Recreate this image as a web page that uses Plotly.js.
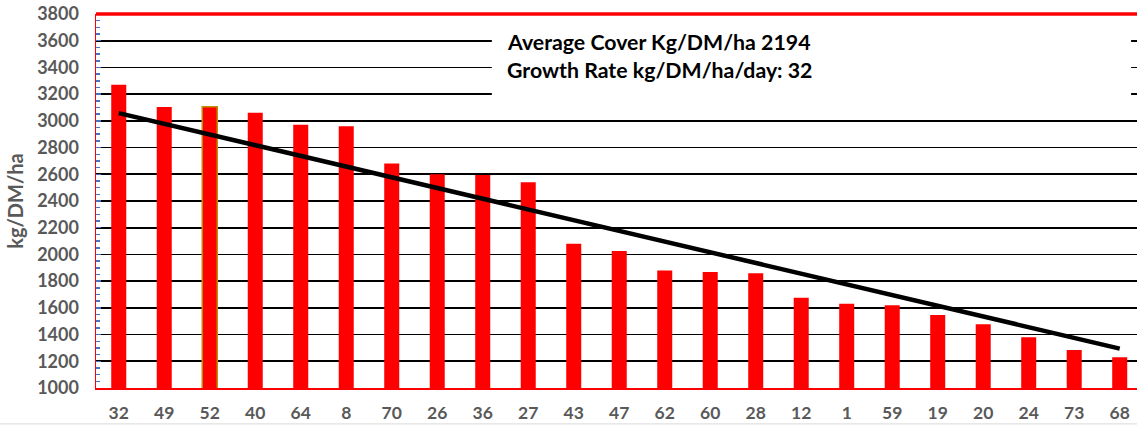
<!DOCTYPE html>
<html>
<head>
<meta charset="utf-8">
<script src="https://cdn.plot.ly/plotly-3.0.1.min.js"></script>
<style>html,body{margin:0;padding:0;background:#fff;}#chart{width:1137px;height:426px;}</style>
</head>
<body>
<div id="chart"></div>
<script>
const categories = ["32","49","52","40","64","8","70","26","36","27","43","47","62","60","28","12","1","59","19","20","24","73","68"];
const coverValues = [3270,3103,3105,3060,2970,2960,2680,2600,2595,2540,2080,2025,1880,1868,1860,1675,1630,1620,1546,1477,1380,1284,1230];
const highlightCategory = "52";
const trendCategories = ["32","68"];
const trendValues = [3058,1295];
const averageCover = 2194;
const growthRate = 32;

const lineColors = categories.map(c => c === highlightCategory ? "#BF9000" : "rgba(0,0,0,0)");
const lineWidths = categories.map(c => c === highlightCategory ? 1.5 : 0);

const bars = {
  type: "bar",
  x: categories,
  y: coverValues,
  width: 0.33,
  marker: {color: "#FF0000", line: {color: lineColors, width: lineWidths}},
  hoverinfo: "x+y"
};
const trend = {
  type: "scatter",
  mode: "lines",
  x: trendCategories,
  y: trendValues,
  line: {color: "#000000", width: 4.5},
  hoverinfo: "skip"
};

const font = "Lato, 'Open Sans', sans-serif";
const layout = {
  width: 1137, height: 426,
  margin: {l: 96, r: 0, t: 14, b: 38},
  paper_bgcolor: "#ffffff", plot_bgcolor: "#ffffff",
  showlegend: false,
  xaxis: {
    type: "category",
    range: [-0.5, 22.38],
    showgrid: false,
    showline: true, linecolor: "#FF0000", linewidth: 2,
    ticks: "",
    ticklabelstandoff: 8,
    tickfont: {family: font, size: 17.5, color: "#595959", weight: 700},
    fixedrange: true
  },
  yaxis: {
    range: [1000, 3800],
    dtick: 200,
    tick0: 1000,
    showgrid: true, gridcolor: "#000000", gridwidth: 1.8,
    zeroline: false,
    showline: true, linecolor: "#FF0000", linewidth: 1.5,
    ticks: "inside", ticklen: 5, tickcolor: "#4472C4", tickwidth: 1.5,
    minor: {dtick: 50, ticks: "inside", ticklen: 4, tickcolor: "#4472C4", tickwidth: 1.5, showgrid: false},
    ticklabelstandoff: 12,
    tickfont: {family: font, size: 18, color: "#595959", weight: 700},
    title: {text: "kg/DM/ha", font: {family: font, size: 20, color: "#595959", weight: 700}, standoff: 8},
    fixedrange: true
  },
  shapes: [
    {type: "rect", xref: "x", yref: "y", x0: 8.2, x1: 22.25, y0: 3100, y1: 3790,
     fillcolor: "#ffffff", line: {width: 0}, layer: "between"},
    {type: "line", xref: "paper", yref: "paper", x0: 0, x1: 1, y0: 1, y1: 1,
     line: {color: "#FF0000", width: 3.5}, layer: "above"},
    {type: "line", xref: "paper", yref: "paper", x0: -0.1, x1: 1, y0: -0.096, y1: -0.096,
     line: {color: "#d9d9d9", width: 1}, layer: "above"}
  ],
  annotations: [
    {xref: "x", yref: "y", x: 8.5, y: 3590, xanchor: "left", yanchor: "middle", showarrow: false,
     text: "Average Cover Kg/DM/ha " + averageCover,
     font: {family: font, size: 21.3, color: "#000000", weight: 700}},
    {xref: "x", yref: "y", x: 8.5, y: 3380, xanchor: "left", yanchor: "middle", showarrow: false,
     text: "Growth Rate kg/DM/ha/day: " + growthRate,
     font: {family: font, size: 21.3, color: "#000000", weight: 700}}
  ]
};

Plotly.newPlot("chart", [bars, trend], layout, {displayModeBar: false, staticPlot: true});
</script>
</body>
</html>
